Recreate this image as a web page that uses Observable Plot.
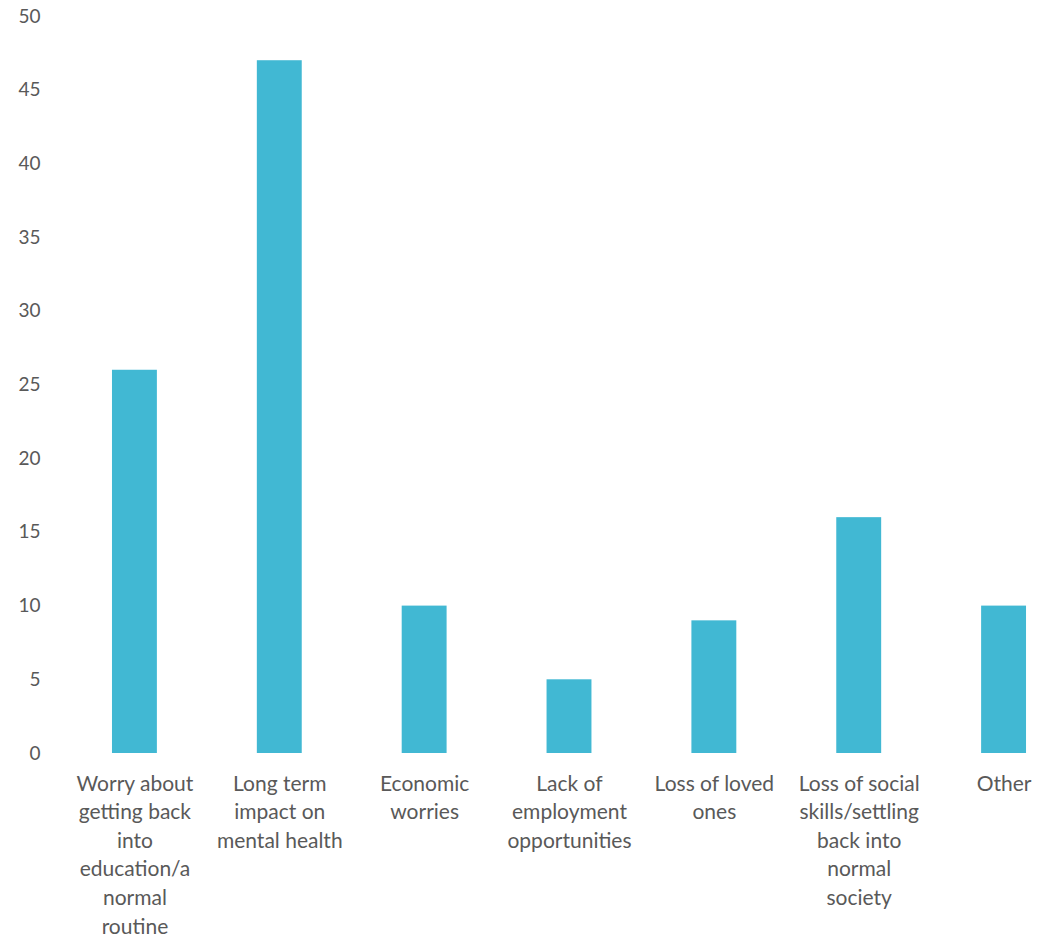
<!DOCTYPE html>
<html>
<head>
<meta charset="utf-8">
<script src="https://cdn.jsdelivr.net/npm/d3@7"></script>
<script src="https://cdn.jsdelivr.net/npm/@observablehq/plot@0.6"></script>
<style>
  html, body { margin: 0; padding: 0; background: #fff; overflow: hidden; }
  #chart svg { display: block; }
</style>
</head>
<body>
<div id="chart"></div>
<script>
const categories = [
  "Worry about getting back into education/a normal routine",
  "Long term impact on mental health",
  "Economic worries",
  "Lack of employment opportunities",
  "Loss of loved ones",
  "Loss of social skills/settling back into normal society",
  "Other"
];
const tickLabels = [
  "Worry about\ngetting back\ninto\neducation/a\nnormal\nroutine",
  "Long term\nimpact on\nmental health",
  "Economic\nworries",
  "Lack of\nemployment\nopportunities",
  "Loss of loved\nones",
  "Loss of social\nskills/settling\nback into\nnormal\nsociety",
  "Other"
];
const values = [26, 47, 10, 5, 9, 16, 10];
const yTicks = [0, 5, 10, 15, 20, 25, 30, 35, 40, 45, 50];

const data = categories.map((c, i) => ({category: c, value: values[i]}));
const labelOf = new Map(categories.map((c, i) => [c, tickLabels[i]]));

const chart = Plot.plot({
  width: 1056,
  height: 940,
  marginTop: 16,
  marginBottom: 187,
  marginLeft: 62,
  marginRight: 0,
  style: {fontFamily: "Lato, 'Open Sans', sans-serif", color: "#595959", background: "#fff"},
  x: {domain: categories, range: [62, 1076], paddingInner: 0.69, paddingOuter: 0.345, align: 0.5, round: false},
  y: {domain: [0, 50]},
  marks: [
    Plot.ruleY(yTicks, {stroke: "#d9d9d9", strokeWidth: 2, x1: 62, x2: 1056}),
    Plot.barY(data, {x: "category", y: "value", fill: "#41B8D3"}),
    Plot.axisY(yTicks, {tickSize: 0, tickPadding: 22, fontSize: 19, fill: "#595959", label: null}),
    Plot.axisX({tickSize: 0, tickPadding: 17, fontSize: 21, fill: "#595959", label: null,
      lineHeight: 1.36, tickFormat: (d) => labelOf.get(d)})
  ]
});
document.getElementById("chart").appendChild(chart);
</script>
</body>
</html>
